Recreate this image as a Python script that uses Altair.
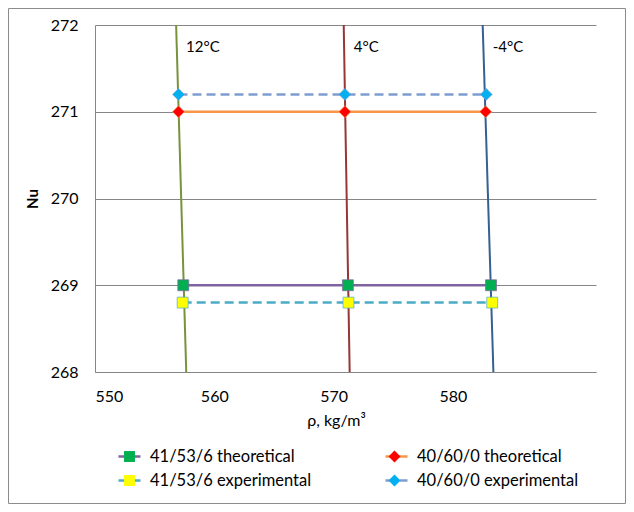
import altair as alt
import pandas as pd

# ---- data ----
# legend order (column-major: first column holds the 41/53/6 series)
series_names = ["41/53/6 theoretical", "41/53/6 experimental",
                "40/60/0 theoretical", "40/60/0 experimental"]
rho_41_theo = [557.4, 571.2, 583.2]
nu_41_theo = [269.0, 269.0, 269.0]
rho_41_exp = [557.35, 571.25, 583.3]
nu_41_exp = [268.8, 268.8, 268.8]
rho_40_theo = [557.0, 570.95, 582.75]
nu_40_theo = [271.0, 271.0, 271.0]
rho_40_exp = [557.0, 570.95, 582.8]
nu_40_exp = [271.2, 271.2, 271.2]

iso_labels = ["12°C", "4°C", "-4°C"]
iso_rho_top = [556.8, 570.85, 582.5]      # at Nu = 272
iso_rho_bottom = [557.65, 571.35, 583.4]  # at Nu = 268
iso_nu_top = 272
iso_nu_bottom = 268
iso_label_nu = 271.75

x_ticks = [550, 560, 570, 580]
y_ticks = [268, 269, 270, 271, 272]

# marker keys (distinct domain so the marker legend stays separate)
marker_keys = [n + " " for n in series_names]

# ---- styling ----
line_colors = ["#8064A2", "#4BACC6", "#F79646", "#7F9DD1"]
line_dashes = [[1, 0], [9, 5], [1, 0], [9, 5]]
marker_colors = ["#00B050", "#FFFF00", "#FF0000", "#00B0F0"]
square = "M-0.46,-0.46H0.46V0.46H-0.46Z"
diamond = "M0,-0.5L0.5,0L0,0.5L-0.5,0Z"
marker_shapes = [square, square, diamond, diamond]
iso_colors = ["#77933C", "#953735", "#376092"]
FONT = "Lato"

rows = []
for name, key, rs, ns in zip(series_names, marker_keys,
                             [rho_41_theo, rho_41_exp, rho_40_theo, rho_40_exp],
                             [nu_41_theo, nu_41_exp, nu_40_theo, nu_40_exp]):
    for r, n in zip(rs, ns):
        rows.append({"series": name, "series_m": key, "rho": r, "Nu": n})
df = pd.DataFrame(rows)

iso_rows = []
for lab, rt, rb in zip(iso_labels, iso_rho_top, iso_rho_bottom):
    iso_rows.append({"temp": lab, "rho": rt, "Nu": iso_nu_top})
    iso_rows.append({"temp": lab, "rho": rb, "Nu": iso_nu_bottom})
iso_df = pd.DataFrame(iso_rows)
lab_df = pd.DataFrame({"temp": iso_labels, "rho": iso_rho_top,
                       "Nu": [iso_label_nu] * len(iso_labels)})

xscale = alt.Scale(domain=[550, 592], nice=False, zero=False)
yscale = alt.Scale(domain=[268, 272], nice=False, zero=False)

x_enc = alt.X("rho:Q", scale=xscale,
              axis=alt.Axis(values=x_ticks, grid=False, ticks=False,
                            domainColor="#868686", labelFont=FONT,
                            labelFontSize=16, labelColor="#000000",
                            labelPadding=16, title="ρ, kg/m³",
                            titleFont=FONT, titleFontSize=16,
                            titleFontWeight="normal", titleColor="#000000",
                            titlePadding=8, titleX=241))
y_enc = alt.Y("Nu:Q", scale=yscale,
              axis=alt.Axis(values=y_ticks, grid=True, gridColor="#868686",
                            ticks=False, domainColor="#868686",
                            labelFont=FONT, labelFontSize=16,
                            labelColor="#000000", labelPadding=17,
                            format="d", title="Nu", titleFont=FONT,
                            titleFontSize=15, titleFontWeight="bold",
                            titleColor="#000000", titlePadding=10))

iso = alt.Chart(iso_df).mark_line(strokeWidth=2).encode(
    x=alt.X("rho:Q", scale=xscale),
    y=alt.Y("Nu:Q", scale=yscale),
    color=alt.Color("temp:N", scale=alt.Scale(domain=iso_labels, range=iso_colors),
                    legend=None),
    detail="temp:N",
)

iso_text = alt.Chart(lab_df).mark_text(
    align="left", baseline="middle", dx=10, font=FONT, fontSize=15,
    color="#000000").encode(
    x=alt.X("rho:Q", scale=xscale),
    y=alt.Y("Nu:Q", scale=yscale),
    text="temp:N",
)

leg_common = dict(orient="none", legendX=22, legendY=419, columns=2,
                  title=None, labelFont=FONT, labelFontSize=16.5,
                  labelLimit=300, labelOffset=8, rowPadding=3, padding=0)

line_legend = alt.Legend(symbolType="stroke", symbolSize=484,
                         symbolStrokeWidth=2.5, labelColor="#000000",
                         columnPadding=68, **leg_common)
marker_legend = alt.Legend(symbolSize=566, symbolStrokeWidth=0.7,
                           labelExpr="''", columnPadding=232, **leg_common)

lines = alt.Chart(df).mark_line(strokeWidth=2.5).encode(
    x=x_enc,
    y=y_enc,
    stroke=alt.Stroke("series:N",
                      scale=alt.Scale(domain=series_names, range=line_colors),
                      legend=line_legend),
    strokeDash=alt.StrokeDash("series:N",
                              scale=alt.Scale(domain=series_names, range=line_dashes),
                              legend=line_legend),
    detail="series:N",
)

points = alt.Chart(df).mark_point(filled=True, size=566, opacity=1,
                                  strokeWidth=0.7).encode(
    x=alt.X("rho:Q", scale=xscale),
    y=alt.Y("Nu:Q", scale=yscale),
    fill=alt.Fill("series_m:N",
                  scale=alt.Scale(domain=marker_keys, range=marker_colors),
                  legend=marker_legend),
    shape=alt.Shape("series_m:N",
                    scale=alt.Scale(domain=marker_keys, range=marker_shapes),
                    legend=marker_legend),
    stroke=alt.Stroke("series:N", legend=None),
)

border = alt.Chart(pd.DataFrame({"a": [0]})).mark_rect(
    fillOpacity=0, stroke="#8c8c8c", strokeWidth=1).encode(
    x=alt.value(-86.5), x2=alt.value(530.5),
    y=alt.value(-16.5), y2=alt.value(478.5),
)

chart = alt.layer(border, iso, lines, points, iso_text).properties(
    width=501, height=347,
    autosize=alt.AutoSizeParams(type="none"),
    padding={"left": 87, "top": 17, "right": 30, "bottom": 132},
    background="white",
).configure_view(stroke=None)

chart.save("out.html", embed_options={"renderer": "svg", "actions": False})
